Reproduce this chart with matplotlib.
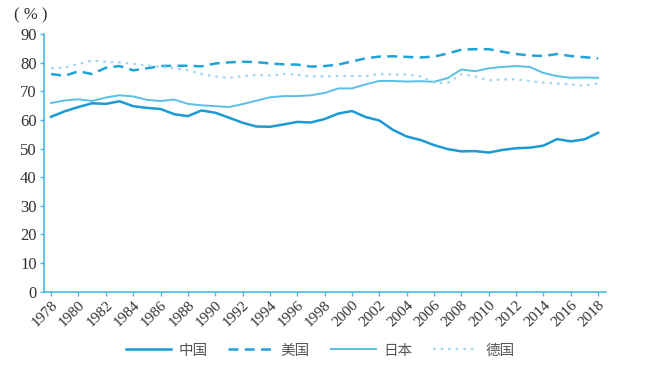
import numpy as np
import matplotlib
matplotlib.use("Agg")
import matplotlib.pyplot as plt

years = list(range(1978, 2019))

china = [61.1, 63.0, 64.5, 65.8, 65.6, 66.5, 64.8, 64.2, 63.8, 62.0,
         61.3, 63.3, 62.5, 60.8, 59.0, 57.7, 57.6, 58.4, 59.3, 59.1,
         60.3, 62.2, 63.1, 61.0, 59.8, 56.5, 54.2, 53.0, 51.2, 49.8,
         49.0, 49.1, 48.6, 49.5, 50.1, 50.3, 51.0, 53.3, 52.5, 53.2,
         55.5]
usa = [76.0, 75.4, 77.0, 76.0, 78.2, 78.8, 77.3, 78.0, 78.8, 78.9,
       78.9, 78.7, 79.7, 80.1, 80.3, 80.2, 79.7, 79.4, 79.3, 78.6,
       78.8, 79.3, 80.4, 81.5, 82.1, 82.2, 82.0, 81.8, 82.1, 83.2,
       84.5, 84.7, 84.7, 83.8, 83.0, 82.5, 82.3, 83.0, 82.3, 81.9,
       81.5]
japan = [65.9, 66.8, 67.2, 66.6, 67.8, 68.6, 68.2, 67.0, 66.6, 67.1,
         65.6, 65.1, 64.8, 64.5, 65.5, 66.7, 67.9, 68.3, 68.3, 68.6,
         69.4, 71.0, 71.0, 72.4, 73.6, 73.6, 73.4, 73.5, 73.3, 74.6,
         77.6, 77.0, 78.0, 78.5, 78.8, 78.5, 76.4, 75.3, 74.7, 74.8,
         74.7]
germany = [78.0, 78.3, 79.5, 80.7, 80.3, 80.1, 79.6, 79.0, 78.5, 78.0,
           77.3, 76.0, 75.2, 74.7, 75.3, 75.7, 75.5, 76.0, 75.8, 75.2,
           75.2, 75.3, 75.3, 75.3, 76.0, 75.8, 75.9, 75.2, 73.0, 72.9,
           76.0, 75.2, 73.8, 74.1, 74.2, 73.6, 73.0, 72.7, 72.4, 71.9,
           72.8]

labels = ["中国", "美国", "日本", "德国"]
axis_blue = "#4ab8e0"

fig = plt.figure(figsize=(6.55, 3.69), dpi=100)
ax = fig.add_axes([0.0676, 0.2095, 0.857, 0.6984])

ax.plot(years, china, color="#1b9ad4", lw=1.8, label=labels[0])
ax.plot(years, usa, color="#1fa3d8", lw=1.8, ls=(0, (4, 2.5)), label=labels[1])
ax.plot(years, japan, color="#58bfe6", lw=1.4, label=labels[2])
ax.plot(years, germany, color="#a3d6ee", lw=1.6, ls=(0, (1.2, 2.2)), label=labels[3])

ax.set_xlim(1977.5, 2018.55)
ax.set_ylim(0, 90)
ax.set_xticks(range(1978, 2019, 2))
ax.set_yticks(range(0, 91, 10))

for s in ["top", "right"]:
    ax.spines[s].set_visible(False)
for s in ["left", "bottom"]:
    ax.spines[s].set_color(axis_blue)
    ax.spines[s].set_linewidth(1.2)

ax.tick_params(axis="y", colors=axis_blue, length=3, width=1.0,
               labelcolor="#333333", pad=2.5)
ax.tick_params(axis="x", colors=axis_blue, length=3, width=1.0,
               labelcolor="#333333", pad=1.5)
for lbl in ax.get_yticklabels():
    lbl.set_fontfamily("Liberation Serif")
    lbl.set_fontsize(12)
for lbl in ax.get_xticklabels():
    lbl.set_fontfamily("Liberation Serif")
    lbl.set_fontsize(11)
    lbl.set_rotation(45)
    lbl.set_ha("right")
    lbl.set_rotation_mode("anchor")

fig.text(0.021, 0.957, "( % )", fontsize=12, family="Liberation Serif",
         color="#333333", va="center")

leg = fig.legend(loc="center", bbox_to_anchor=(0.489, 0.05), ncol=4,
                 frameon=False, handlelength=3.1, columnspacing=1.4,
                 handletextpad=0.5,
                 prop={"family": ["Noto Sans CJK SC", "DejaVu Sans"], "size": 10.5})
for t in leg.get_texts():
    t.set_color("#555555")

fig.savefig("out.png", dpi=100)
